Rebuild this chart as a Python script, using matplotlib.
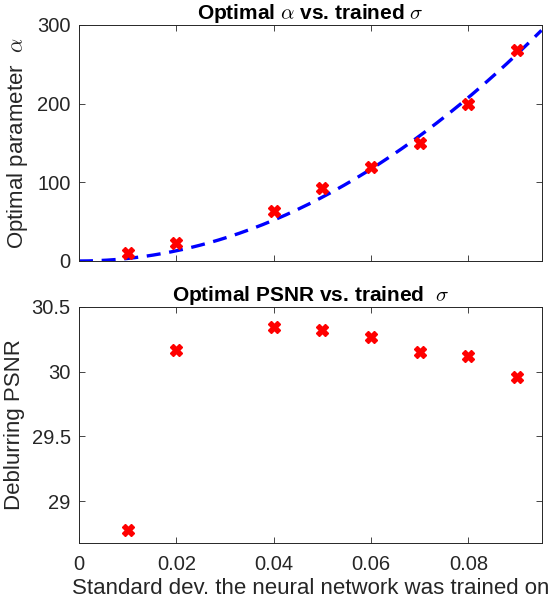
import matplotlib
matplotlib.use("Agg")
import matplotlib.pyplot as plt
import numpy as np

plt.rcParams['font.family'] = ['Liberation Sans', 'DejaVu Sans']
plt.rcParams['mathtext.fontset'] = 'cm'

# data
sigma = [0.01, 0.02, 0.04, 0.05, 0.06, 0.07, 0.08, 0.09]
alpha_opt = [9.8, 22.5, 63.6, 92.4, 119.9, 149.6, 199.6, 268.0]
psnr_opt = [28.776, 30.166, 30.346, 30.32, 30.264, 30.148, 30.12, 29.96]

x_ticks = [0, 0.02, 0.04, 0.06, 0.08]
x_tick_labels = ['0', '0.02', '0.04', '0.06', '0.08']
alpha_ticks = [0, 100, 200, 300]
psnr_ticks = [29, 29.5, 30, 30.5]

TXT = '#262626'

# quadratic fit through origin: alpha = a * sigma^2
s = np.array(sigma)
a = np.linalg.lstsq((s ** 2)[:, None], np.array(alpha_opt), rcond=None)[0][0]
s_fit = np.linspace(0, 0.095, 200)

W, H = 559, 613
fig = plt.figure(figsize=(W / 100, H / 100), dpi=100)
ax1 = fig.add_axes([79 / W, 1 - 261 / H, 462.5 / W, 236 / H])
ax2 = fig.add_axes([79 / W, 1 - 542.7 / H, 462.5 / W, 236 / H])

ax1.plot(s_fit, a * s_fit ** 2, '--', color='#0000ff', lw=2.4, dashes=(4.2, 2.6))
ax1.plot(sigma, alpha_opt, 'X', color='red', ms=9, mec='red')
ax2.plot(sigma, psnr_opt, 'X', color='red', ms=9, mec='red')

ax1.set_ylim(0, 300)
ax1.set_yticks(alpha_ticks)
ax2.set_ylim(28.68, 30.5)
ax2.set_yticks(psnr_ticks)
ax2.set_yticklabels(['29', '29.5', '30', '30.5'])

for ax in (ax1, ax2):
    ax.set_xlim(0, 0.095)
    ax.set_xticks(x_ticks)
    ax.tick_params(direction='in', top=True, right=True, labelsize=14.5,
                   colors=TXT, length=4, width=0.6, pad=6)
    for sp in ax.spines.values():
        sp.set_color(TXT)
        sp.set_linewidth(0.7)

ax1.set_xticklabels([])
ax2.set_xticklabels(x_tick_labels)
ax2.tick_params(axis='x', pad=9)

ax1.set_title(r'Optimal $\alpha$ vs. trained $\sigma$', fontsize=15,
              fontweight='bold', pad=4)
ax2.set_title(r'Optimal PSNR vs. trained  $\sigma$', fontsize=15,
              fontweight='bold', pad=4)
ax1.set_ylabel(r'Optimal parameter  $\alpha$', fontsize=16, color=TXT, labelpad=5)
ax2.set_ylabel('Deblurring PSNR', fontsize=16, color=TXT, labelpad=5)
ax2.set_xlabel('Standard dev. the neural network was trained on', fontsize=16,
               color=TXT, labelpad=3)

fig.savefig('out.png', dpi=100)
